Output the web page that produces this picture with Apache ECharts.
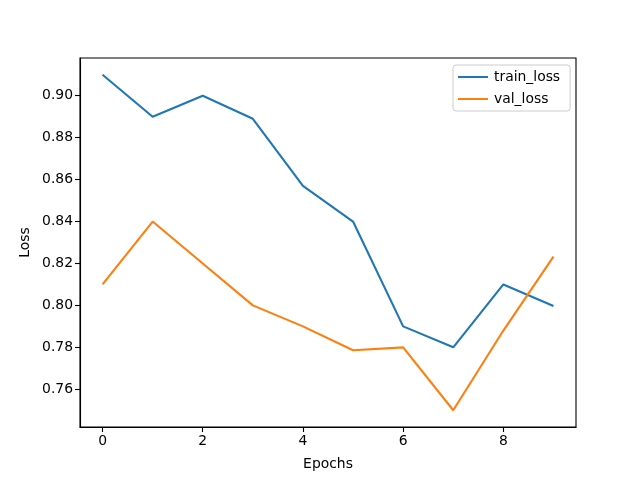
<!DOCTYPE html>
<html>
<head>
<meta charset="utf-8">
<script src="https://cdn.jsdelivr.net/npm/echarts@6/dist/echarts.min.js"></script>
<style>html,body{margin:0;padding:0;background:#fff}#c{width:640px;height:480px}</style>
</head>
<body>
<div id="c"></div>
<script>
const epochs = [0, 1, 2, 3, 4, 5, 6, 7, 8, 9];
const trainLoss = [0.910, 0.890, 0.900, 0.889, 0.857, 0.840, 0.790, 0.780, 0.810, 0.7997];
const valLoss = [0.810, 0.840, 0.820, 0.800, 0.790, 0.7786, 0.780, 0.750, 0.788, 0.8233];
const xTicks = [0, 2, 4, 6, 8];
const yTicks = [0.76, 0.78, 0.80, 0.82, 0.84, 0.86, 0.88, 0.90];

const font = 'DejaVu Sans';
const fs = 13.9;
const chart = echarts.init(document.getElementById('c'), null, {renderer: 'canvas'});
chart.setOption({
  animation: false,
  backgroundColor: '#fff',
  textStyle: {fontFamily: font},
  grid: {left: 80, right: 64, top: 58, bottom: 53, show: true, borderColor: '#000', borderWidth: 1.1, backgroundColor: 'transparent'},
  legend: {
    orient: 'vertical', left: 453, top: 65,
    padding: [5, 10, 5, 5],
    borderColor: '#cccccc', borderWidth: 1, borderRadius: 3,
    backgroundColor: 'rgba(255,255,255,0.8)',
    itemWidth: 30, itemHeight: 2, itemGap: 8,
    icon: 'rect',
    textStyle: {fontFamily: font, fontSize: fs, color: '#000', padding: [0, 0, 0, 1]},
    data: ['train_loss', 'val_loss']
  },
  xAxis: {
    type: 'value', min: -0.45, max: 9.45,
    name: 'Epochs', nameLocation: 'middle', nameGap: 30,
    nameTextStyle: {fontFamily: font, fontSize: fs, color: '#000'},
    splitLine: {show: false},
    axisLine: {show: true, onZero: false, lineStyle: {color: '#000', width: 1.1}},
    axisTick: {show: true, length: 5, lineStyle: {color: '#000', width: 1.1}, customValues: xTicks},
    axisLabel: {fontFamily: font, fontSize: fs, color: '#000', margin: 7, customValues: xTicks, formatter: v => String(v)}
  },
  yAxis: {
    type: 'value', min: 0.742, max: 0.918,
    name: 'Loss', nameLocation: 'middle', nameGap: 48, nameRotate: 90, nameMoveOverlap: false,
    nameTextStyle: {fontFamily: font, fontSize: fs, color: '#000'},
    splitLine: {show: false},
    axisLine: {show: true, onZero: false, lineStyle: {color: '#000', width: 1.1}},
    axisTick: {show: true, length: 5, lineStyle: {color: '#000', width: 1.1}, customValues: yTicks},
    axisLabel: {fontFamily: font, fontSize: fs, color: '#000', margin: 7, customValues: yTicks, formatter: v => v.toFixed(2)}
  },
  series: [
    {name: 'train_loss', type: 'line', data: epochs.map((e, i) => [e, trainLoss[i]]), showSymbol: false, symbol: 'none',
     lineStyle: {color: '#1f77b4', width: 2.1}, itemStyle: {color: '#1f77b4'}},
    {name: 'val_loss', type: 'line', data: epochs.map((e, i) => [e, valLoss[i]]), showSymbol: false, symbol: 'none',
     lineStyle: {color: '#ff7f0e', width: 2.1}, itemStyle: {color: '#ff7f0e'}}
  ]
});
</script>
</body>
</html>
